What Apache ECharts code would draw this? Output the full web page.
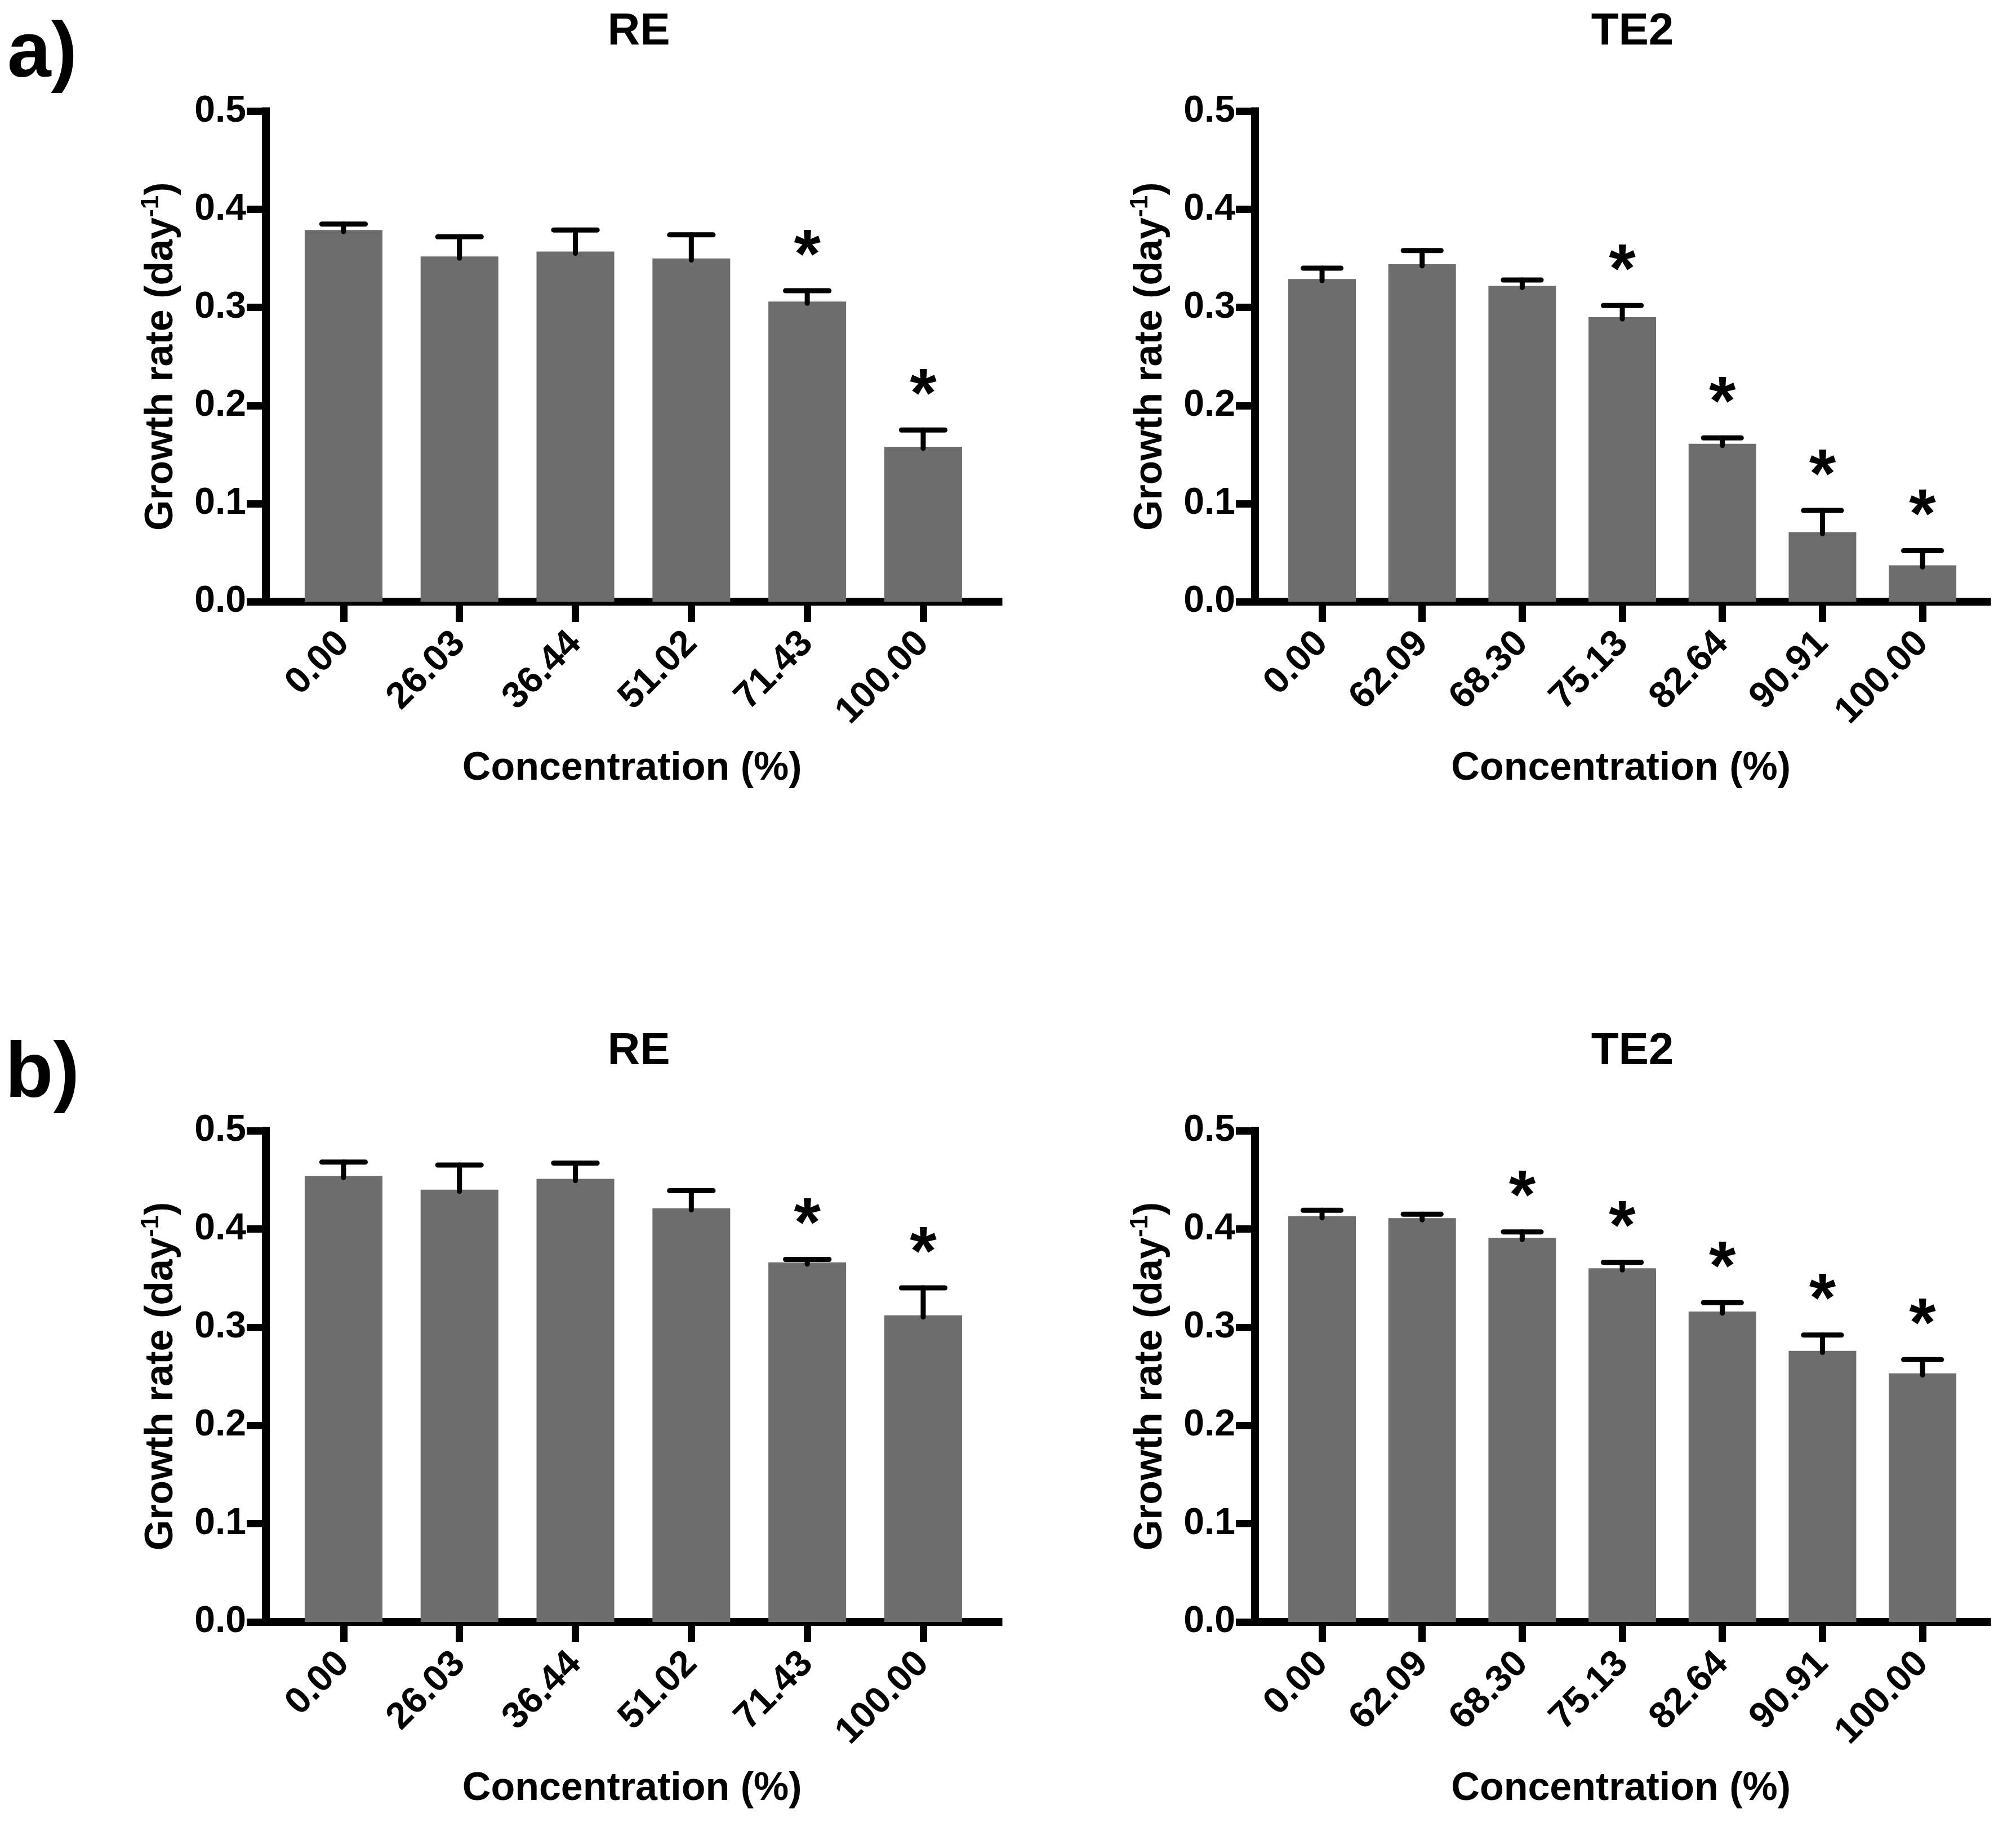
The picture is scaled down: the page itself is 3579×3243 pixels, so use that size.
<!DOCTYPE html>
<html>
<head>
<meta charset="utf-8">
<script src="https://cdn.jsdelivr.net/npm/echarts@6/dist/echarts.min.js"></script>
<style>
  html, body { margin: 0; padding: 0; background: #fff; }
  #chart { width: 3579px; height: 3243px; }
</style>
</head>
<body>
<div id="chart"></div>
<script>
const FONT = "'Liberation Sans', Arial, Helvetica, sans-serif"

// concentrations (%)
const reCats = ['0.00', '26.03', '36.44', '51.02', '71.43', '100.00']
const te2Cats = ['0.00', '62.09', '68.30', '75.13', '82.64', '90.91', '100.00']

// a) growth rate, mean and SEM (day-1)
const aReMean = [0.379, 0.352, 0.357, 0.350, 0.306, 0.158]
const aReSem = [0.006, 0.020, 0.022, 0.024, 0.011, 0.017]
const aReSig = [0, 0, 0, 0, 1, 1]
const aTe2Mean = [0.329, 0.344, 0.322, 0.290, 0.161, 0.071, 0.037]
const aTe2Sem = [0.011, 0.014, 0.006, 0.012, 0.006, 0.022, 0.015]
const aTe2Sig = [0, 0, 0, 1, 1, 1, 1]

// b) growth rate, mean and SEM (day-1)
const bReMean = [0.454, 0.440, 0.451, 0.421, 0.366, 0.312]
const bReSem = [0.014, 0.025, 0.016, 0.018, 0.003, 0.028]
const bReSig = [0, 0, 0, 0, 1, 1]
const bTe2Mean = [0.413, 0.411, 0.391, 0.360, 0.316, 0.276, 0.253]
const bTe2Sem = [0.006, 0.004, 0.006, 0.006, 0.009, 0.016, 0.014]
const bTe2Sig = [0, 0, 1, 1, 1, 1, 1]

const yTicks = [0, 0.1, 0.2, 0.3, 0.4, 0.5]

const panels = [
  { title: 'RE', cats: reCats, mean: aReMean, sem: aReSem, sig: aReSig,
    grid: { left: 472, top: 197.5, width: 1300.5, height: 870.5 }, xMax: 5.649, barWidth: 138, titleX: 1134, titleY: 57 },
  { title: 'TE2', cats: te2Cats, mean: aTe2Mean, sem: aTe2Sem, sig: aTe2Sig,
    grid: { left: 2228, top: 197.5, width: 1299.5, height: 870.5 }, xMax: 6.644, barWidth: 120, titleX: 2898, titleY: 57 },
  { title: 'RE', cats: reCats, mean: bReMean, sem: bReSem, sig: bReSig,
    grid: { left: 472, top: 2007, width: 1300.5, height: 872 }, xMax: 5.649, barWidth: 138, titleX: 1134, titleY: 1867 },
  { title: 'TE2', cats: te2Cats, mean: bTe2Mean, sem: bTe2Sem, sig: bTe2Sig,
    grid: { left: 2228, top: 2007, width: 1299.5, height: 872 }, xMax: 6.644, barWidth: 120, titleX: 2898, titleY: 1867 }
]

const chart = echarts.init(document.getElementById('chart'))

const grids = []
const xAxes = []
const yAxes = []
const series = []
const graphics = []

panels.forEach(function (p, k) {
  const idx = p.cats.map(function (c, i) { return i })
  grids.push(Object.assign({ outerBoundsMode: 'none', containLabel: false }, p.grid))
  xAxes.push({
    gridIndex: k,
    type: 'value',
    min: -0.67,
    max: p.xMax,
    name: 'Concentration (%)',
    nameLocation: 'middle',
    nameGap: 262,
    nameTextStyle: { fontSize: 70, fontWeight: 'bold', fontFamily: FONT, color: '#000' },
    splitLine: { show: false },
    axisLine: { show: true, onZero: false, lineStyle: { color: '#000', width: 14, cap: 'square' } },
    axisTick: { show: true, customValues: idx, length: 36, lineStyle: { color: '#000', width: 13 } },
    axisLabel: {
      customValues: idx,
      rotate: 45,
      margin: 64,
      fontSize: 66,
      fontWeight: 'bold',
      fontFamily: FONT,
      color: '#000',
      formatter: function (v) { return p.cats[Math.round(v)] }
    }
  })
  yAxes.push({
    gridIndex: k,
    type: 'value',
    min: 0,
    max: 0.5,
    interval: 0.1,
    name: '{b|Growth rate (day}{s|-1}{b|)}',
    nameLocation: 'middle',
    nameGap: 145,
    nameTextStyle: {
      color: '#000',
      rich: {
        b: { fontSize: 70, fontWeight: 'bold', fontFamily: FONT, color: '#000', lineHeight: 80 },
        s: { fontSize: 44, fontWeight: 'bold', fontFamily: FONT, color: '#000', verticalAlign: 'top', lineHeight: 44 }
      }
    },
    splitLine: { show: false },
    axisLine: { show: true, onZero: false, lineStyle: { color: '#000', width: 14, cap: 'square' } },
    axisTick: { show: true, length: 34, lineStyle: { color: '#000', width: 13 } },
    axisLabel: {
      margin: 35,
      fontSize: 66,
      fontWeight: 'bold',
      fontFamily: FONT,
      color: '#000',
      customValues: yTicks,
      formatter: function (v) { return v.toFixed(1) }
    }
  })
  series.push({
    type: 'bar',
    xAxisIndex: k,
    yAxisIndex: k,
    barWidth: p.barWidth,
    itemStyle: { color: '#6d6d6d' },
    silent: true,
    data: p.mean.map(function (m, i) { return [i, m] })
  })
  const capHalf = p.barWidth * 0.28
  series.push({
    type: 'custom',
    xAxisIndex: k,
    yAxisIndex: k,
    clip: false,
    z: 5,
    silent: true,
    encode: { x: 0, y: 1 },
    data: p.mean.map(function (m, i) { return [i, m, p.sem[i], p.sig[i]] }),
    renderItem: function (params, api) {
      const i = api.value(0)
      const m = api.value(1)
      const e = api.value(2)
      const base = api.coord([i, m])
      const top = api.coord([i, m + e])
      const st = { stroke: '#000', lineWidth: 9, lineCap: 'round' }
      const children = [
        { type: 'line', shape: { x1: base[0], y1: base[1] + 3, x2: top[0], y2: top[1] }, style: st },
        { type: 'line', shape: { x1: top[0] - capHalf, y1: top[1], x2: top[0] + capHalf, y2: top[1] }, style: st }
      ]
      if (api.value(3)) {
        children.push({
          type: 'text',
          x: top[0],
          y: top[1] - 58,
          style: { text: '*', fontSize: 122, fontWeight: 'bold', fontFamily: FONT, fill: '#000', align: 'center', verticalAlign: 'middle' }
        })
      }
      return { type: 'group', children: children }
    }
  })
  graphics.push({
    type: 'text',
    x: p.titleX,
    y: p.titleY,
    style: { text: p.title, fontSize: 80, fontWeight: 'bold', fontFamily: FONT, fill: '#000', align: 'center', verticalAlign: 'middle' }
  })
})

// panel letters
graphics.push({
  type: 'text', x: 75, y: 97,
  style: { text: 'a)', fontSize: 140, fontWeight: 'bold', fontFamily: FONT, fill: '#000', align: 'center', verticalAlign: 'middle' }
})
graphics.push({
  type: 'text', x: 75, y: 1908,
  style: { text: 'b)', fontSize: 140, fontWeight: 'bold', fontFamily: FONT, fill: '#000', align: 'center', verticalAlign: 'middle' }
})

chart.setOption({
  animation: false,
  backgroundColor: '#fff',
  grid: grids,
  xAxis: xAxes,
  yAxis: yAxes,
  series: series,
  graphic: graphics
})
</script>
</body>
</html>
